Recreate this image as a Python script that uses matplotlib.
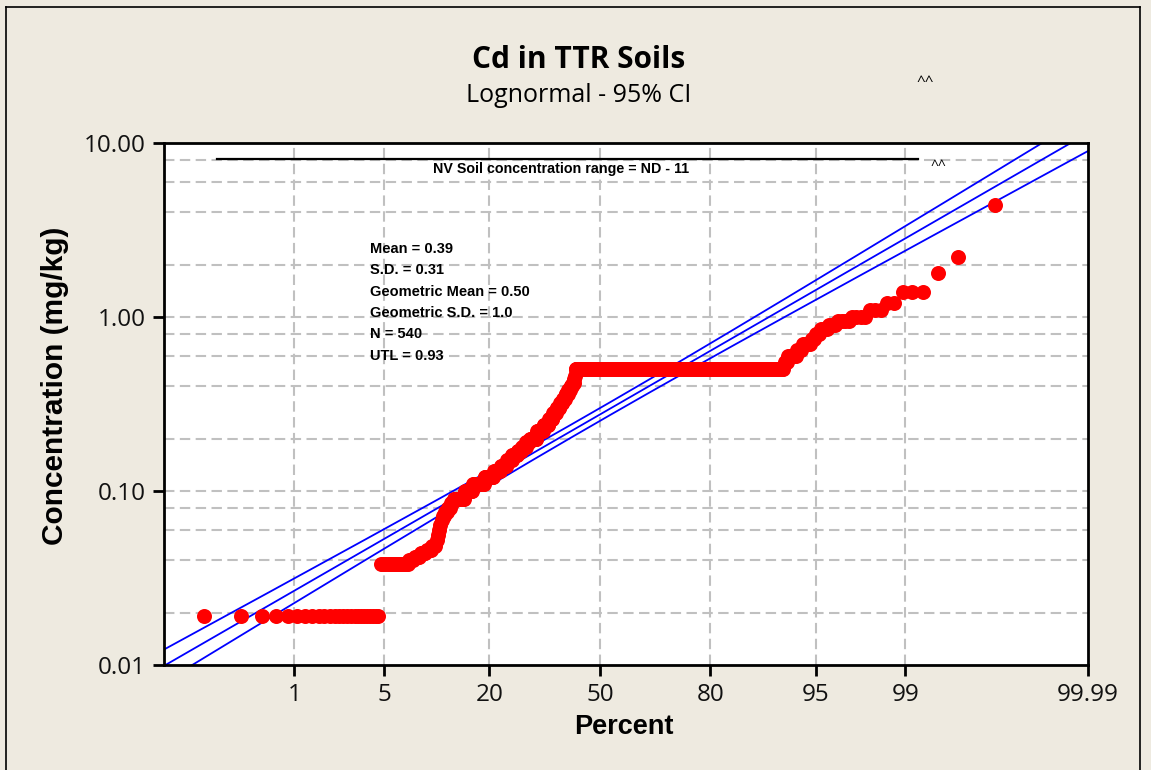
import math
import numpy as np
import matplotlib
matplotlib.use("Agg")
import matplotlib.pyplot as plt
from matplotlib.ticker import FixedLocator, FixedFormatter, NullLocator
from matplotlib.lines import Line2D

# ---------------- data ----------------
conc_values = [0.019, 0.038, 0.040, 0.042, 0.044, 0.046, 0.048, 0.052, 0.056, 0.060,
               0.064, 0.068, 0.072, 0.076, 0.080, 0.085, 0.090, 0.10, 0.11, 0.12,
               0.13, 0.14, 0.15, 0.16, 0.17, 0.18, 0.19, 0.20, 0.22, 0.24,
               0.26, 0.28, 0.30, 0.32, 0.34, 0.36, 0.38, 0.40, 0.42, 0.44,
               0.46, 0.50, 0.55, 0.60, 0.65, 0.70, 0.75, 0.80, 0.85, 0.90,
               0.95, 1.0, 1.1, 1.2, 1.4, 1.8, 2.2, 4.4]
conc_counts = [25, 14, 3, 4, 4, 4, 3, 1, 1, 1,
               1, 1, 2, 2, 3, 2, 11, 8, 12, 11,
               8, 8, 7, 7, 6, 6, 5, 10, 10, 8,
               6, 6, 5, 5, 4, 4, 4, 3, 3, 1,
               1, 267, 2, 5, 3, 4, 2, 2, 3, 3,
               4, 4, 3, 2, 3, 1, 1, 1]

fit_median = 0.275        # median of fitted lognormal (mg/kg)
fit_log10_sd = 0.435      # sd of log10 concentration for fitted line

x_ticks = [1, 5, 20, 50, 80, 95, 99, 99.99]
x_tick_labels = ["1", "5", "20", "50", "80", "95", "99", "99.99"]
x_grid = [1, 5, 20, 50, 80, 95, 99]
x_limits = (0.045, 99.99)

y_ticks = [0.01, 0.1, 1, 10]
y_tick_labels = ["0.01", "0.10", "1.00", "10.00"]
y_grid = [0.02, 0.04, 0.06, 0.08, 0.1, 0.2, 0.4, 0.6, 0.8, 1, 2, 4, 6, 8]
y_limits = (0.01, 10)

stats_lines = ["Mean = 0.39", "S.D. = 0.31", "Geometric Mean = 0.50",
               "Geometric S.D. = 1.0", "N = 540", "UTL = 0.93"]
nv_text = "NV Soil concentration range = ND - 11"
title = "Cd in TTR Soils"
subtitle = "Lognormal - 95% CI"

# ---------------- normal probability scale ----------------
_a = [-3.969683028665376e+01, 2.209460984245205e+02, -2.759285104469687e+02,
      1.383577518672690e+02, -3.066479806614716e+01, 2.506628277459239e+00]
_b = [-5.447609879822406e+01, 1.615858368580409e+02, -1.556989798598866e+02,
      6.680131188771972e+01, -1.328068155288572e+01]
_c = [-7.784894002430293e-03, -3.223964580411365e-01, -2.400758277161838e+00,
      -2.549671348400990e+00, 4.374664141464968e+00, 2.938163982698783e+00]
_d = [7.784695709041462e-03, 3.224671290700398e-01, 2.445134137142996e+00,
      3.754408661907416e+00]


def _ppf(q):
    q = np.asarray(q, dtype=float)
    shape = q.shape
    q = np.clip(q.ravel(), 1e-12, 1 - 1e-12)
    out = np.empty_like(q)
    plow = 0.02425
    lo = q < plow
    hi = q > 1 - plow
    mid = ~(lo | hi)
    if lo.any():
        t = np.sqrt(-2 * np.log(q[lo]))
        out[lo] = (((((_c[0]*t+_c[1])*t+_c[2])*t+_c[3])*t+_c[4])*t+_c[5]) / \
                  ((((_d[0]*t+_d[1])*t+_d[2])*t+_d[3])*t+1)
    if hi.any():
        t = np.sqrt(-2 * np.log(1 - q[hi]))
        out[hi] = -(((((_c[0]*t+_c[1])*t+_c[2])*t+_c[3])*t+_c[4])*t+_c[5]) / \
                   ((((_d[0]*t+_d[1])*t+_d[2])*t+_d[3])*t+1)
    if mid.any():
        t = q[mid] - 0.5
        r = t * t
        out[mid] = (((((_a[0]*r+_a[1])*r+_a[2])*r+_a[3])*r+_a[4])*r+_a[5])*t / \
                   (((((_b[0]*r+_b[1])*r+_b[2])*r+_b[3])*r+_b[4])*r+1)
    return out.reshape(shape)


_erf = np.vectorize(math.erf, otypes=[float])


def pct_to_z(p):
    return _ppf(np.asarray(p, dtype=float) / 100.0)


def z_to_pct(z):
    return 50.0 * (1.0 + _erf(np.asarray(z, dtype=float) / math.sqrt(2.0)))


# ---------------- figure ----------------
W, H = 1151, 770
bg = "#EEEAE0"
fig = plt.figure(figsize=(W / 100, H / 100), dpi=100, facecolor=bg)
ax = fig.add_axes([164 / W, 1 - 665 / H, 924 / W, 522 / H])
ax.set_facecolor("white")

ax.set_xscale("function", functions=(pct_to_z, z_to_pct))
ax.set_yscale("log")
ax.set_xlim(*x_limits)
ax.set_ylim(*y_limits)

# grid
grid_kw = dict(color="#C0C0C0", lw=1.5, dashes=(5.0, 2.6), zorder=0.5)
for g in y_grid:
    ax.axhline(g, **grid_kw)
for g in x_grid:
    ax.axvline(g, **grid_kw)

# fitted line and 95% CI
n = int(sum(conc_counts))
zz = np.linspace(-3.6, 3.9, 500)
pz = z_to_pct(zz)
mu = math.log10(fit_median)
logmid = mu + fit_log10_sd * zz
half = 1.96 * fit_log10_sd / math.sqrt(n) * np.sqrt(1 + zz ** 2 / 2)
for lv in (logmid - half, logmid, logmid + half):
    ax.plot(pz, 10 ** lv, color="#0000FF", lw=1.3, zorder=2)

# data points with median-rank plotting positions
conc = np.repeat(conc_values, conc_counts)
ranks = np.arange(1, n + 1)
pp = (ranks - 0.3) / (n + 0.4) * 100
ax.plot(pp, conc, "o", color="#FF0000", markersize=10.8, markeredgewidth=0, zorder=3)

# ticks
ax.xaxis.set_major_locator(FixedLocator(x_ticks))
ax.xaxis.set_major_formatter(FixedFormatter(x_tick_labels))
ax.xaxis.set_minor_locator(NullLocator())
ax.yaxis.set_major_locator(FixedLocator(y_ticks))
ax.yaxis.set_major_formatter(FixedFormatter(y_tick_labels))
ax.yaxis.set_minor_locator(NullLocator())
ax.tick_params(axis="both", direction="out", length=8, width=2, color="black",
               labelsize=17.5, labelcolor="#111111")
ax.tick_params(axis="x", pad=5)
ax.tick_params(axis="y", pad=5)
for lab in ax.get_xticklabels() + ax.get_yticklabels():
    lab.set_fontfamily("Open Sans")

for s in ax.spines.values():
    s.set_linewidth(2)
    s.set_color("black")

# axis labels
fig.text(624 / W, 1 - 727 / H, "Percent", ha="center", va="center",
         fontsize=19.5, fontweight="bold", family="Liberation Sans")
fig.text(55 / W, 1 - 386 / H, "Concentration (mg/kg)", ha="center", va="center",
         rotation=90, fontsize=21.5, fontweight="bold", family="Liberation Sans")

# titles
fig.text(579 / W, 1 - 60 / H, title, ha="center", va="center", fontsize=21.5,
         fontweight="bold", family="Open Sans")
fig.text(579 / W, 1 - 96 / H, subtitle, ha="center", va="center", fontsize=18,
         family="Open Sans")
fig.text(925 / W, 1 - 82 / H, "^^", ha="center", va="center", fontsize=11,
         family="Open Sans")

# annotations inside plot
x0 = 164
yt = 143
def axx(px):
    return (px - x0) / 924
def axy(py):
    return 1 - (py - yt) / 522

ax.add_line(Line2D([axx(217), axx(918)], [axy(158.5), axy(158.5)], color="black",
                   lw=1.6, transform=ax.transAxes, zorder=4))
ax.text(axx(561), axy(169), nv_text, transform=ax.transAxes, ha="center", va="center",
        fontsize=10.3, fontweight="bold", family="Liberation Sans", zorder=4)
ax.text(axx(938), axy(166), "^^", transform=ax.transAxes, ha="center", va="center",
        fontsize=10, family="Open Sans", zorder=4)
for k, s in enumerate(stats_lines):
    ax.text(axx(370), axy(249 + k * 21.3), s, transform=ax.transAxes, ha="left",
            va="center", fontsize=10.5, fontweight="bold", family="Liberation Sans",
            zorder=4)

# outer frame
for xs, ys in [([5.5, 1140], [6.5, 6.5]), ([5.5, 5.5], [6.5, 775]),
               ([1140, 1140], [6.5, 775])]:
    fig.add_artist(Line2D([x / W for x in xs], [1 - y / H for y in ys],
                          color="black", lw=1.2, transform=fig.transFigure))

fig.savefig("out.png", dpi=100, facecolor=bg)
